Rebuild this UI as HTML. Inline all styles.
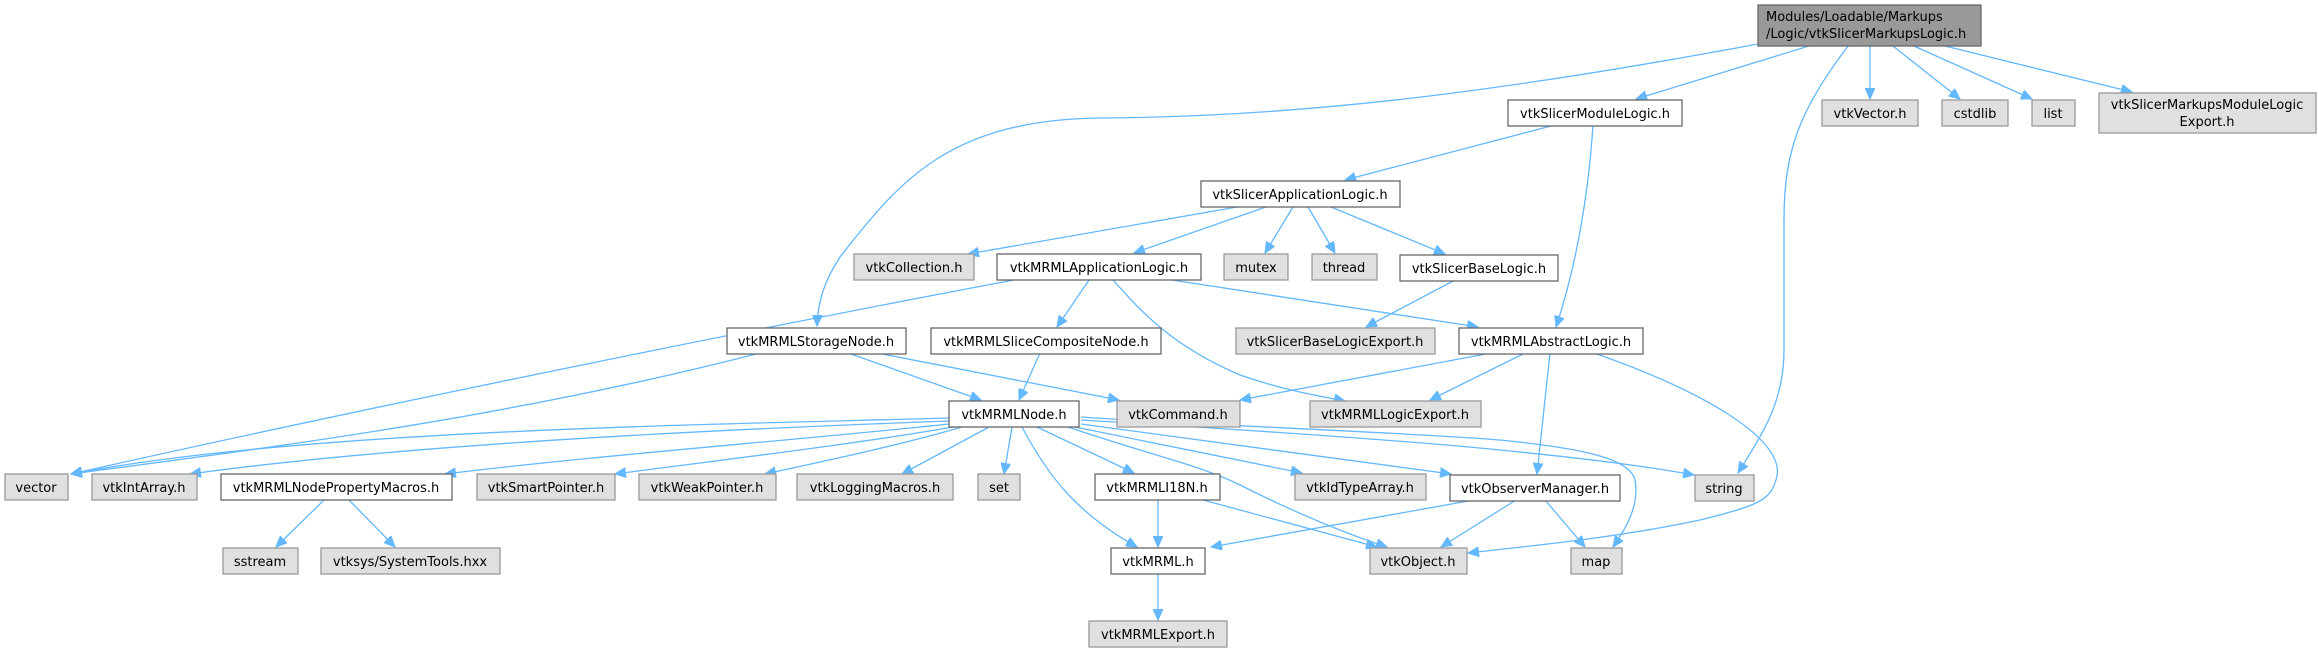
<!DOCTYPE html>
<html><head><meta charset="utf-8"><style>
html,body{margin:0;padding:0;background:#fff;}
svg{display:block;}
text{font-family:"DejaVu Sans","Liberation Sans",sans-serif;font-size:13px;fill:#000;}
.e{fill:none;stroke:#63b8ff;stroke-width:1.3;marker-end:url(#a);}
.w{fill:#fff;stroke:#666;stroke-width:1.3;}
.g{fill:#e0e0e0;stroke:#999;stroke-width:1.3;}
</style></head><body>
<svg width="2318" height="652" viewBox="0 0 2318 652" xmlns="http://www.w3.org/2000/svg">
<defs><marker id="a" markerUnits="userSpaceOnUse" markerWidth="12" markerHeight="10" refX="11" refY="5" orient="auto"><path d="M0,0 L11,5 L0,10 z" fill="#63b8ff" stroke="#63b8ff"/></marker></defs>
<!-- edges -->
<path class="e" d="M1758,44 C1500,92 1300,117 1100,118 C950,120 900,180 840,257 C825,280 818,300 817,326"/>
<path class="e" d="M1809,46 L1636,99"/>
<path class="e" d="M1848,46 C1800,110 1784,150 1784,220 L1784,350 C1784,400 1765,430 1738,473"/>
<path class="e" d="M1870,46 L1870,99"/>
<path class="e" d="M1893,46 L1960,99"/>
<path class="e" d="M1914,46 L2032,99"/>
<path class="e" d="M1945,46 L2132,92"/>
<path class="e" d="M1551,126 L1345,180"/>
<path class="e" d="M1593,126 C1588,200 1575,270 1556,327"/>
<path class="e" d="M1237,207 L968,254"/>
<path class="e" d="M1266,207 L1134,253"/>
<path class="e" d="M1293,207 L1265,253"/>
<path class="e" d="M1308,207 L1335,253"/>
<path class="e" d="M1331,207 L1445,254"/>
<path class="e" d="M1014,280 C800,320 400,400 71,474"/>
<path class="e" d="M1089,280 L1057,327"/>
<path class="e" d="M1113,280 C1140,310 1170,345 1240,375 C1290,392 1320,396 1345,401"/>
<path class="e" d="M1172,280 L1478,327"/>
<path class="e" d="M1455,280 L1366,327"/>
<path class="e" d="M760,353 C500,420 250,450 71,474"/>
<path class="e" d="M848,353 L981,400"/>
<path class="e" d="M877,353 L1119,400"/>
<path class="e" d="M1040,353 L1019,400"/>
<path class="e" d="M1491,353 L1240,400"/>
<path class="e" d="M1525,353 L1430,400"/>
<path class="e" d="M1550,353 L1537,474"/>
<path class="e" d="M1594,353 C1700,390 1790,440 1776,480 C1770,500 1760,505 1700,520 C1620,537 1540,545 1468,553"/>
<path class="e" d="M949,418 C700,425 300,430 71,474"/>
<path class="e" d="M949,421 C700,430 400,445 190,474"/>
<path class="e" d="M949,424 C800,440 600,455 445,474"/>
<path class="e" d="M953,427 C850,445 720,460 615,474"/>
<path class="e" d="M962,427 C900,445 830,460 765,474"/>
<path class="e" d="M989,427 L902,474"/>
<path class="e" d="M1012,427 L1004,474"/>
<path class="e" d="M1022,427 C1050,480 1080,515 1137,547"/>
<path class="e" d="M1037,427 L1134,473"/>
<path class="e" d="M1068,427 C1150,455 1200,465 1240,485 C1300,515 1350,535 1387,547"/>
<path class="e" d="M1075,427 L1302,473"/>
<path class="e" d="M1081,424 L1451,474"/>
<path class="e" d="M1081,420 C1250,430 1400,440 1500,450 C1600,460 1650,467 1694,475"/>
<path class="e" d="M1081,417 C1200,425 1400,432 1500,440 C1580,448 1630,458 1635,480 C1640,505 1625,530 1613,547"/>
<path class="e" d="M324,500 L276,547"/>
<path class="e" d="M349,500 L395,547"/>
<path class="e" d="M1158,500 L1158,547"/>
<path class="e" d="M1203,500 L1377,547"/>
<path class="e" d="M1474,500 L1211,547"/>
<path class="e" d="M1516,500 L1441,547"/>
<path class="e" d="M1545,500 L1585,547"/>
<path class="e" d="M1158,573 L1158,620"/>
<!-- nodes -->
<rect x="1758" y="5" width="223" height="41" fill="#999" stroke="#666" stroke-width="1.3"/>
<text x="1766" y="21">Modules/Loadable/Markups</text>
<text x="1766" y="38">/Logic/vtkSlicerMarkupsLogic.h</text>
<g text-anchor="middle">
<rect class="w" x="1508" y="100" width="174" height="26"/><text x="1595" y="118">vtkSlicerModuleLogic.h</text>
<rect class="g" x="1822" y="100" width="96" height="26"/><text x="1870" y="118">vtkVector.h</text>
<rect class="g" x="1942" y="100" width="66" height="26"/><text x="1975" y="118">cstdlib</text>
<rect class="g" x="2032" y="100" width="43" height="26"/><text x="2053" y="118">list</text>
<rect class="g" x="2099" y="93" width="217" height="40"/><text x="2207" y="109">vtkSlicerMarkupsModuleLogic</text><text x="2207" y="126">Export.h</text>
<rect class="w" x="1201" y="181" width="199" height="26"/><text x="1300" y="199">vtkSlicerApplicationLogic.h</text>
<rect class="g" x="854" y="254" width="120" height="26"/><text x="914" y="272">vtkCollection.h</text>
<rect class="w" x="997" y="254" width="204" height="26"/><text x="1099" y="272">vtkMRMLApplicationLogic.h</text>
<rect class="g" x="1224" y="254" width="64" height="26"/><text x="1256" y="272">mutex</text>
<rect class="g" x="1312" y="254" width="65" height="26"/><text x="1344" y="272">thread</text>
<rect class="w" x="1400" y="255" width="158" height="26"/><text x="1479" y="273">vtkSlicerBaseLogic.h</text>
<rect class="w" x="727" y="328" width="179" height="26"/><text x="816" y="346">vtkMRMLStorageNode.h</text>
<rect class="w" x="931" y="328" width="230" height="26"/><text x="1046" y="346">vtkMRMLSliceCompositeNode.h</text>
<rect class="g" x="1236" y="328" width="199" height="26"/><text x="1335" y="346">vtkSlicerBaseLogicExport.h</text>
<rect class="w" x="1459" y="328" width="184" height="26"/><text x="1551" y="346">vtkMRMLAbstractLogic.h</text>
<rect class="w" x="949" y="401" width="130" height="26"/><text x="1014" y="419">vtkMRMLNode.h</text>
<rect class="g" x="1117" y="401" width="123" height="26"/><text x="1178" y="419">vtkCommand.h</text>
<rect class="g" x="1310" y="401" width="171" height="26"/><text x="1395" y="419">vtkMRMLLogicExport.h</text>
<rect class="g" x="5" y="474" width="63" height="26"/><text x="36" y="492">vector</text>
<rect class="g" x="92" y="474" width="105" height="26"/><text x="144" y="492">vtkIntArray.h</text>
<rect class="w" x="221" y="474" width="231" height="26"/><text x="336" y="492">vtkMRMLNodePropertyMacros.h</text>
<rect class="g" x="477" y="474" width="138" height="26"/><text x="546" y="492">vtkSmartPointer.h</text>
<rect class="g" x="639" y="474" width="137" height="26"/><text x="707" y="492">vtkWeakPointer.h</text>
<rect class="g" x="797" y="474" width="156" height="26"/><text x="875" y="492">vtkLoggingMacros.h</text>
<rect class="g" x="978" y="474" width="42" height="26"/><text x="999" y="492">set</text>
<rect class="w" x="1095" y="474" width="125" height="26"/><text x="1157" y="492">vtkMRMLI18N.h</text>
<rect class="g" x="1295" y="474" width="131" height="26"/><text x="1360" y="492">vtkIdTypeArray.h</text>
<rect class="w" x="1450" y="475" width="170" height="26"/><text x="1535" y="493">vtkObserverManager.h</text>
<rect class="g" x="1695" y="475" width="59" height="26"/><text x="1724" y="493">string</text>
<rect class="g" x="223" y="548" width="75" height="26"/><text x="260" y="566">sstream</text>
<rect class="g" x="321" y="548" width="179" height="26"/><text x="410" y="566">vtksys/SystemTools.hxx</text>
<rect class="w" x="1111" y="548" width="94" height="26"/><text x="1158" y="566">vtkMRML.h</text>
<rect class="g" x="1370" y="548" width="97" height="26"/><text x="1418" y="566">vtkObject.h</text>
<rect class="g" x="1571" y="548" width="51" height="26"/><text x="1596" y="566">map</text>
<rect class="g" x="1089" y="621" width="138" height="26"/><text x="1158" y="639">vtkMRMLExport.h</text>
</g>
</svg>
</body></html>
